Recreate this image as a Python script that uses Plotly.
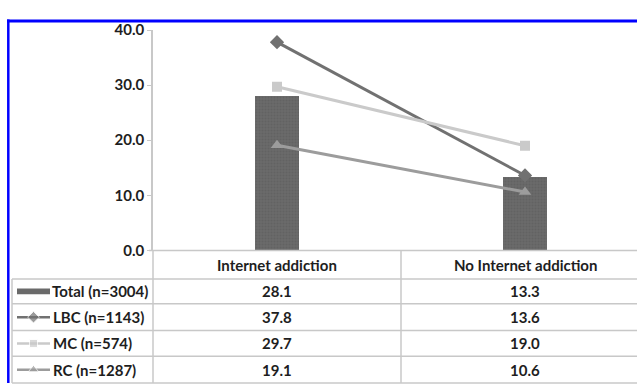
import plotly.graph_objects as go

categories = ["Internet addiction", "No Internet addiction"]
series_names = ["Total (n=3004)", "LBC (n=1143)", "MC (n=574)", "RC (n=1287)"]
total_vals = [28.1, 13.3]
lbc_vals = [37.8, 13.6]
mc_vals = [29.7, 19.0]
rc_vals = [19.1, 10.6]
y_ticks = [0, 10, 20, 30, 40]

W, H = 637, 391
FONT = "Lato"
TXT = "#1e1e1e"
GRID = "#c8c8c8"

bar_col = "#6a6a6a"
lbc_col = "#717171"
mc_col = "#cacaca"
rc_col = "#9c9c9c"

def px(x):
    return x / W

def py(y):
    return 1 - y / H

fig = go.Figure()

fig.add_trace(go.Bar(
    x=categories, y=total_vals, width=0.175,
    marker=dict(color=bar_col, line=dict(width=0),
                pattern=dict(shape=".", bgcolor=bar_col, fgcolor="#5a5a5a", size=3, solidity=0.4)),
    xaxis="x", yaxis="y", showlegend=False))

line_specs = [
    (lbc_vals, lbc_col, "diamond", 11),
    (mc_vals, mc_col, "square", 10),
    (rc_vals, rc_col, "triangle-up", 11),
]
for vals, col, sym, sz in line_specs:
    fig.add_trace(go.Scatter(
        x=categories, y=vals, mode="lines+markers",
        line=dict(color=col, width=3),
        marker=dict(symbol=sym, size=sz, color=col),
        xaxis="x", yaxis="y", showlegend=False))

# table row geometry (pixels)
row_bounds = [252, 282, 308, 336, 363, 391]
row_centers = [(row_bounds[i] + row_bounds[i + 1]) / 2 for i in range(5)]

# legend symbols in the left column (independent pixel axes)
sym_x0, sym_x1 = 17, 50
sym_mid = (sym_x0 + sym_x1) / 2
for i, (vals, col, sym, sz) in enumerate(line_specs):
    yc = row_centers[i + 2]
    fig.add_trace(go.Scatter(
        x=[sym_x0, sym_mid, sym_x1], y=[yc, yc, yc], mode="lines+markers",
        line=dict(color=col, width=2.5),
        marker=dict(symbol=sym, size=[0, sz - 2, 0], color=col),
        xaxis="x2", yaxis="y2", showlegend=False, hoverinfo="skip"))

shapes = []
# total legend swatch
shapes.append(dict(type="rect", xref="x2", yref="y2", x0=sym_x0, x1=sym_x1,
                   y0=row_centers[1] - 3, y1=row_centers[1] + 3,
                   fillcolor=bar_col, line=dict(width=0)))
# table horizontal lines
shapes.append(dict(type="line", xref="paper", yref="paper", x0=px(149), x1=1,
                   y0=py(252), y1=py(252), line=dict(color=GRID, width=1.5)))
for yb in row_bounds[1:]:
    shapes.append(dict(type="line", xref="paper", yref="paper", x0=px(12), x1=1,
                       y0=py(yb), y1=py(yb), line=dict(color=GRID, width=1.5)))
# table vertical lines
shapes.append(dict(type="line", xref="paper", yref="paper", x0=px(12), x1=px(12),
                   y0=py(282), y1=0, line=dict(color=GRID, width=1.5)))
shapes.append(dict(type="line", xref="paper", yref="paper", x0=px(153), x1=px(153),
                   y0=py(252), y1=0, line=dict(color=GRID, width=1.5)))
shapes.append(dict(type="line", xref="paper", yref="paper", x0=px(401), x1=px(401),
                   y0=py(252), y1=0, line=dict(color=GRID, width=1.5)))
# blue frame
shapes.append(dict(type="line", xref="paper", yref="paper", x0=px(7), x1=1,
                   y0=py(11.5), y1=py(11.5), line=dict(color="#0000ff", width=3)))
shapes.append(dict(type="line", xref="paper", yref="paper", x0=px(8.3), x1=px(8.3),
                   y0=py(10), y1=0, line=dict(color="#0000ff", width=2.5)))

annotations = []
font = dict(family=FONT, size=15, color=TXT, weight="bold")
# header
for c in categories:
    annotations.append(dict(x=c, xref="x", y=py(row_centers[0]), yref="paper",
                            text=c, showarrow=False, font=font,
                            xanchor="center", yanchor="middle"))
# values
all_vals = [total_vals, lbc_vals, mc_vals, rc_vals]
for i, vals in enumerate(all_vals):
    for c, v in zip(categories, vals):
        annotations.append(dict(x=c, xref="x", y=py(row_centers[i + 1]), yref="paper",
                                text=f"{v:.1f}", showarrow=False, font=font,
                                xanchor="center", yanchor="middle"))
# series names
for i, name in enumerate(series_names):
    annotations.append(dict(x=px(50 if i == 0 else 51), xref="paper",
                            y=py(row_centers[i + 1]), yref="paper",
                            text=name, showarrow=False, font=font,
                            xanchor="left", yanchor="middle"))

cat_w = 248.0
x_left = 153.0
x_range = [-0.5, -0.5 + (W - x_left) / cat_w]

fig.update_layout(
    width=W, height=H,
    margin=dict(l=0, r=0, t=0, b=0),
    paper_bgcolor="white", plot_bgcolor="rgba(0,0,0,0)",
    bargap=0,
    xaxis=dict(domain=[px(x_left), 1], range=x_range, type="category",
               showticklabels=False, showgrid=False, zeroline=False,
               showline=False, ticks="", anchor="y"),
    yaxis=dict(domain=[py(252), py(21)], range=[0, 40], tickvals=y_ticks,
               ticktext=[f"{t:.1f}" for t in y_ticks],
               showgrid=False, zeroline=False, showline=True, anchor="x",
               linecolor=GRID, linewidth=1.5, ticks="outside", ticklen=4,
               tickcolor=GRID, tickfont=dict(family=FONT, size=15, color=TXT, weight="bold")),
    xaxis2=dict(domain=[0, 1], range=[0, W], visible=False, anchor="y2"),
    yaxis2=dict(domain=[0, 1], range=[H, 0], visible=False, anchor="x2"),
    shapes=shapes,
    annotations=annotations,
)

fig.write_html("out.html")
